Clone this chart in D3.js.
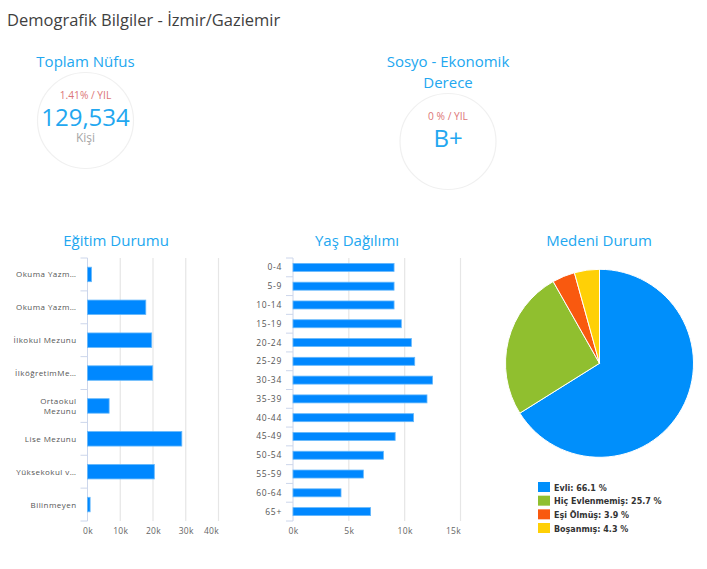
<!DOCTYPE html>
<html>
<head>
<meta charset="utf-8">
<script src="https://cdnjs.cloudflare.com/ajax/libs/d3/7.8.5/d3.min.js"></script>
<style>
  html, body { margin: 0; padding: 0; background: #fff; }
  text { font-family: "Open Sans", sans-serif; }
</style>
</head>
<body>
<div id="chart"></div>
<script>
// Values
const eduLabels = ["Okuma Yazm…", "Okuma Yazm… ", "İlkokul Mezunu", "İlköğretimMe…", "Ortaokul\nMezunu", "Lise Mezunu", "Yüksekokul v…", "Bilinmeyen"];
const eduValues = [1200, 17800, 19600, 19900, 6600, 28800, 20400, 800];
const eduTicks = [0, 10000, 20000, 30000, 40000];

const ageLabels = ["0-4", "5-9", "10-14", "15-19", "20-24", "25-29", "30-34", "35-39", "40-44", "45-49", "50-54", "55-59", "60-64", "65+"];
const ageValues = [9050, 9050, 9050, 9700, 10600, 10900, 12500, 12000, 10800, 9150, 8100, 6300, 4300, 6950];
const ageTicks = [0, 5000, 10000, 15000];

const maritalLabels = ["Evli", "Hiç Evlenmemiş", "Eşi Ölmüş", "Boşanmış"];
const maritalValues = [66.1, 25.7, 3.9, 4.3];
const maritalColors = ["#008ffb", "#90bf2f", "#f9590f", "#ffd006"];

const svg = d3.select("#chart")
    .append("svg")
    .attr("width", 707)
    .attr("height", 569);

const blue = "#22a7f0";

svg.append("text")
    .attr("x", 7)
    .attr("y", 26)
    .attr("font-size", 16.5)
    .attr("fill", "#3f3f3f")
    .text("Demografik Bilgiler - İzmir/Gaziemir");

function heading(x, y, str) {
  svg.append("text")
      .attr("x", x)
      .attr("y", y)
      .attr("text-anchor", "middle")
      .attr("font-size", 15)
      .attr("fill", blue)
      .text(str);
}

heading(85.5, 67, "Toplam Nüfus");
heading(448, 67, "Sosyo - Ekonomik");
heading(448, 88, "Derece");
heading(116, 246, "Eğitim Durumu");
heading(357, 246, "Yaş Dağılımı");
heading(599, 246, "Medeni Durum");

// Round stat badges
function badge(cx, cy, rate, big, sub) {
  const g = svg.append("g");
  g.append("circle")
      .attr("cx", cx)
      .attr("cy", cy)
      .attr("r", 48)
      .attr("fill", "#fff")
      .attr("stroke", "#f0f0f0")
      .attr("stroke-width", 1.2);
  g.append("text")
      .attr("x", cx)
      .attr("y", cy - 22)
      .attr("text-anchor", "middle")
      .attr("font-size", 10.2)
      .attr("fill", "#dc7577")
      .text(rate);
  g.append("text")
      .attr("x", cx)
      .attr("y", cy + 5)
      .attr("text-anchor", "middle")
      .attr("font-size", 24)
      .attr("fill", blue)
      .text(big);
  if (sub) {
    g.append("text")
        .attr("x", cx)
        .attr("y", cy + 21)
        .attr("text-anchor", "middle")
        .attr("font-size", 12)
        .attr("fill", "#a6a6a6")
        .text(sub);
  }
}

badge(85.5, 120.5, "1.41% / YIL", "129,534", "Kişi");
badge(448, 141.5, "0 % / YIL", "B+", null);

// Horizontal bar chart with ticks on the category band edges
function barChart(opts) {
  const x = d3.scaleLinear().domain(opts.domain).range(opts.xRange);
  const y = d3.scaleBand().domain(opts.labels).range([258, 521]);
  const g = svg.append("g");

  g.selectAll("line.grid")
    .data(opts.ticks.slice(1))
    .join("line")
      .attr("class", "grid")
      .attr("x1", d => x(d))
      .attr("x2", d => x(d))
      .attr("y1", 258)
      .attr("y2", 521)
      .attr("stroke", "#e6e6e6")
      .attr("stroke-width", 1.2);

  // category axis line and band ticks
  g.append("line")
      .attr("x1", opts.xRange[0])
      .attr("x2", opts.xRange[0])
      .attr("y1", 258)
      .attr("y2", 521)
      .attr("stroke", "#ccd6eb");
  g.selectAll("line.tick")
    .data(opts.labels.map(d => y(d)).concat([521]))
    .join("line")
      .attr("class", "tick")
      .attr("x1", opts.xRange[0] - 7)
      .attr("x2", opts.xRange[0])
      .attr("y1", d => d)
      .attr("y2", d => d)
      .attr("stroke", "#ccd6eb");

  g.selectAll("rect")
    .data(opts.values)
    .join("rect")
      .attr("x", opts.xRange[0])
      .attr("y", (d, i) => y(opts.labels[i]) + (y.bandwidth() - opts.barH) / 2)
      .attr("width", d => x(d) - opts.xRange[0])
      .attr("height", opts.barH)
      .attr("fill", "#0088ff")
      .attr("stroke", "#66b8fb")
      .attr("stroke-width", 0.8);

  // labels
  const labels = g.selectAll("text.cat")
    .data(opts.labels)
    .join("text")
      .attr("class", "cat")
      .attr("text-anchor", "end")
      .attr("font-size", opts.catSize)
      .attr("letter-spacing", opts.spacing)
      .attr("fill", "#555");
  labels.each(function(d) {
    const lines = d.trim().split("\n");
    const cy = y(d) + y.bandwidth() / 2;
    d3.select(this).selectAll("tspan")
      .data(lines)
      .join("tspan")
        .attr("x", opts.xRange[0] - 11)
        .attr("y", (l, i) => cy + 3 + (i - (lines.length - 1) / 2) * 10)
        .text(l => l);
  });

  const axis = d3.axisBottom(x)
      .tickValues(opts.ticks)
      .tickSize(0)
      .tickFormat(d => (d / 1000) + "k");
  const ax = g.append("g")
      .attr("transform", "translate(0,525)")
      .call(axis);
  ax.select(".domain").remove();
  ax.selectAll("text")
      .attr("font-family", "'Open Sans', sans-serif")
      .attr("font-size", 8.5)
      .attr("letter-spacing", 0.3)
      .attr("fill", "#666");
  ax.selectAll("text").filter(d => d === opts.ticks[opts.ticks.length - 1])
      .attr("text-anchor", "end");
}

barChart({
  labels: eduLabels,
  values: eduValues,
  ticks: eduTicks,
  domain: [0, 40000],
  xRange: [87.5, 218.5],
  barH: 14.5,
  catSize: 8,
  spacing: 0.45
});

barChart({
  labels: ageLabels,
  values: ageValues,
  ticks: ageTicks,
  domain: [0, 15000],
  xRange: [293, 460.5],
  barH: 8,
  catSize: 8.5,
  spacing: 0.7
});

// Pie
const pie = d3.pie().sort(null).value(d => d);
const arc = d3.arc().innerRadius(0).outerRadius(94);
const pieG = svg.append("g").attr("transform", "translate(599.5,363.3)");
pieG.selectAll("path")
  .data(pie(maritalValues))
  .join("path")
    .attr("d", arc)
    .attr("fill", (d, i) => maritalColors[i])
    .attr("stroke", "#fff")
    .attr("stroke-width", 1);

// Legend
const legendY = d3.scalePoint().domain(maritalLabels).range([487, 528]);
const legend = svg.append("g");
legend.selectAll("rect")
  .data(maritalLabels)
  .join("rect")
    .attr("x", 538)
    .attr("y", d => legendY(d) - 5)
    .attr("width", 12)
    .attr("height", 10)
    .attr("fill", (d, i) => maritalColors[i]);
legend.selectAll("text")
  .data(maritalLabels)
  .join("text")
    .attr("x", 554)
    .attr("y", d => legendY(d) + 3.5)
    .attr("font-size", 8)
    .attr("font-weight", "bold")
    .attr("fill", "#333")
    .style("font-family", "'DejaVu Sans', sans-serif")
    .text((d, i) => d + ": " + maritalValues[i] + " %");
</script>
</body>
</html>
